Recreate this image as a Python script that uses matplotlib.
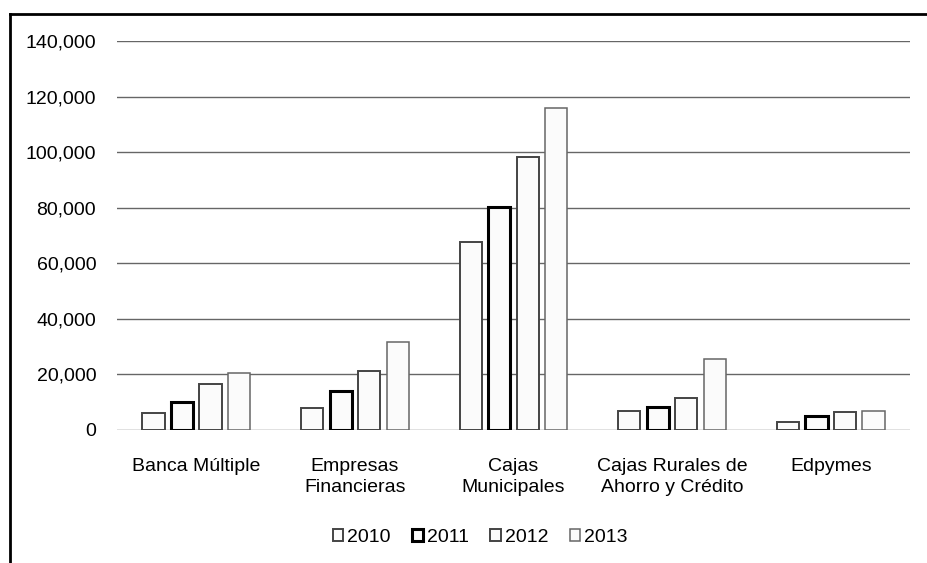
import numpy as np
import matplotlib.pyplot as plt
from matplotlib.lines import Line2D
from matplotlib.ticker import FuncFormatter

plt.rcParams['font.family'] = ['Liberation Sans', 'DejaVu Sans']

categories = ["Banca Múltiple", "Empresas\nFinancieras", "Cajas\nMunicipales",
              "Cajas Rurales de\nAhorro y Crédito", "Edpymes"]
years = ["2010", "2011", "2012", "2013"]
v2010 = [6000, 8000, 67500, 6800, 2900]
v2011 = [10000, 14000, 80200, 8200, 5000]
v2012 = [16500, 21200, 98200, 11500, 6400]
v2013 = [20500, 31600, 115800, 25700, 6800]
series = [v2010, v2011, v2012, v2013]

edge_colors = ["#444444", "#000000", "#444444", "#666666"]
edge_widths = [1.4, 2.2, 1.4, 1.1]

fig = plt.figure(figsize=(9.27, 5.63), dpi=100)
ax = fig.add_axes([117 / 927, 1 - 430 / 563, (910 - 117) / 927, (430 - 41) / 563])

x = np.arange(len(categories))
step = 0.18
width = 0.14
for i, vals in enumerate(series):
    ax.bar(x + (i - 1.5) * step, vals, width, color="#fbfbfb",
           edgecolor=edge_colors[i], linewidth=edge_widths[i], label=years[i],
           zorder=3)

ax.set_xlim(-0.5, len(categories) - 0.5)
ax.set_ylim(0, 140000)
ax.set_yticks(np.arange(0, 140001, 20000))
ax.yaxis.set_major_formatter(FuncFormatter(lambda v, p: f"{int(v):,}"))
ax.grid(axis="y", color="#666666", lw=1.0, zorder=0)
for s in ax.spines.values():
    s.set_visible(False)
ax.tick_params(axis="y", length=0, pad=15, labelsize=14)
ax.set_xticks(x)
ax.set_xticklabels(categories, fontsize=14, linespacing=1.35)
ax.tick_params(axis="x", length=0, pad=20)

leg = ax.legend(loc="upper center", bbox_to_anchor=(0.458, -0.21), ncol=4,
                frameon=False, fontsize=14, handlelength=0.55, handleheight=0.55,
                handletextpad=0.2, columnspacing=1.1)

# outer frame (left and top only, as in the scan)
fig.add_artist(Line2D([10 / 927, 10 / 927], [0, 1 - 14 / 563], color="black",
                      lw=2, transform=fig.transFigure))
fig.add_artist(Line2D([10 / 927, 1], [1 - 14 / 563, 1 - 14 / 563], color="black",
                      lw=2, transform=fig.transFigure))

fig.savefig("out.png", dpi=100)
